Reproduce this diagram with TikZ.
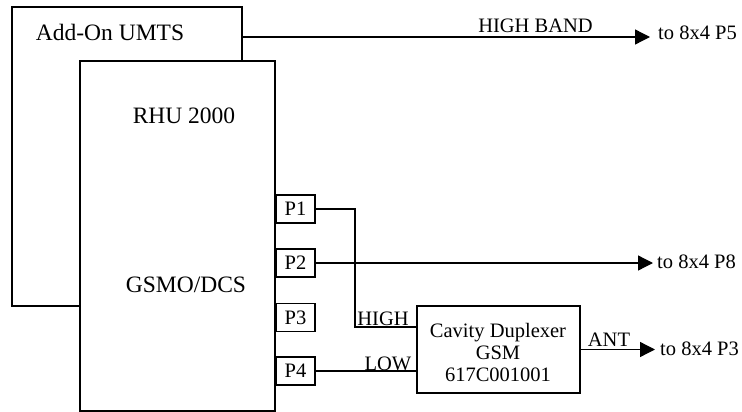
\documentclass[tikz,border=0pt]{standalone}
\usepackage{fontspec}
\setmainfont{Liberation Serif}
\usetikzlibrary{arrows.meta}
\begin{document}
\begin{tikzpicture}[x=1pt,y=-1pt,
 box/.style={draw, line width=1.3pt, inner sep=0pt, rectangle, fill=white},
 wire/.style={line width=1.3pt},
 arr/.style={wire, -{Triangle[length=15pt,width=15pt]}},
 big/.style={font=\fontsize{23.5}{26}\selectfont, inner sep=0pt},
 lbl/.style={font=\fontsize{20.5}{22}\selectfont, inner sep=0pt},
 port/.style={box, font=\fontsize{20.5}{22}\selectfont, minimum width=39pt, minimum height=28pt}]
\useasboundingbox (0,0) rectangle (742,412);
% boxes
\node[box, minimum width=230pt, minimum height=299pt] (addon) at (127,156.5) {};
\node[big, anchor=base] (addontxt) at (110,41) {Add-On UMTS};
\node[box, minimum width=195pt, minimum height=350pt] (rhu) at (177.5,236) {};
\node[big, anchor=base] (rhutxt) at (184,124) {RHU 2000};
\node[big, anchor=base] (gsmtxt) at (186,292.7) {GSMO/DCS};
\node[port] (p1) at (295.5,209) {P1};
\node[port] (p2) at (295.5,263) {P2};
\node[port] (p3) at (295.5,317.5) {P3};
\node[port] (p4) at (295.5,371) {P4};
\node[box, minimum width=163pt, minimum height=87pt] (dup) at (498.5,349.5) {};
\node[lbl, align=center] (duptxt) at (498,352) {Cavity Duplexer\\GSM\\617C001001};
% end points
\coordinate (t5) at (650,37);
\coordinate (t8) at (653,263);
\coordinate (t3) at (655,349.5);
\coordinate (hb) at (355,327);
% connectors
\draw[arr] (addon.east |- t5) -- (t5);
\draw[arr] (p2.east) -- (t8);
\draw[arr] (dup.east) -- (t3);
\draw[wire] (p1.east) -| (hb) -- (hb -| dup.west);
\draw[wire] (p4.east) -- (p4.east -| dup.west);
% labels
\node[lbl, anchor=base] (hbl) at (535.5,33) {HIGH BAND};
\node[lbl, anchor=base west] (p5l) at (658,40) {to 8x4 P5};
\node[lbl, anchor=base west] (p8l) at (657,268) {to 8x4 P8};
\node[lbl, anchor=base west] (p3l) at (660,355) {to 8x4 P3};
\node[lbl, anchor=base] (antl) at (609,346.7) {ANT};
\node[lbl, anchor=base] (highl) at (383,325) {HIGH};
\node[lbl, anchor=base] (lowl) at (388,370.5) {LOW};
\end{tikzpicture}
\end{document}
